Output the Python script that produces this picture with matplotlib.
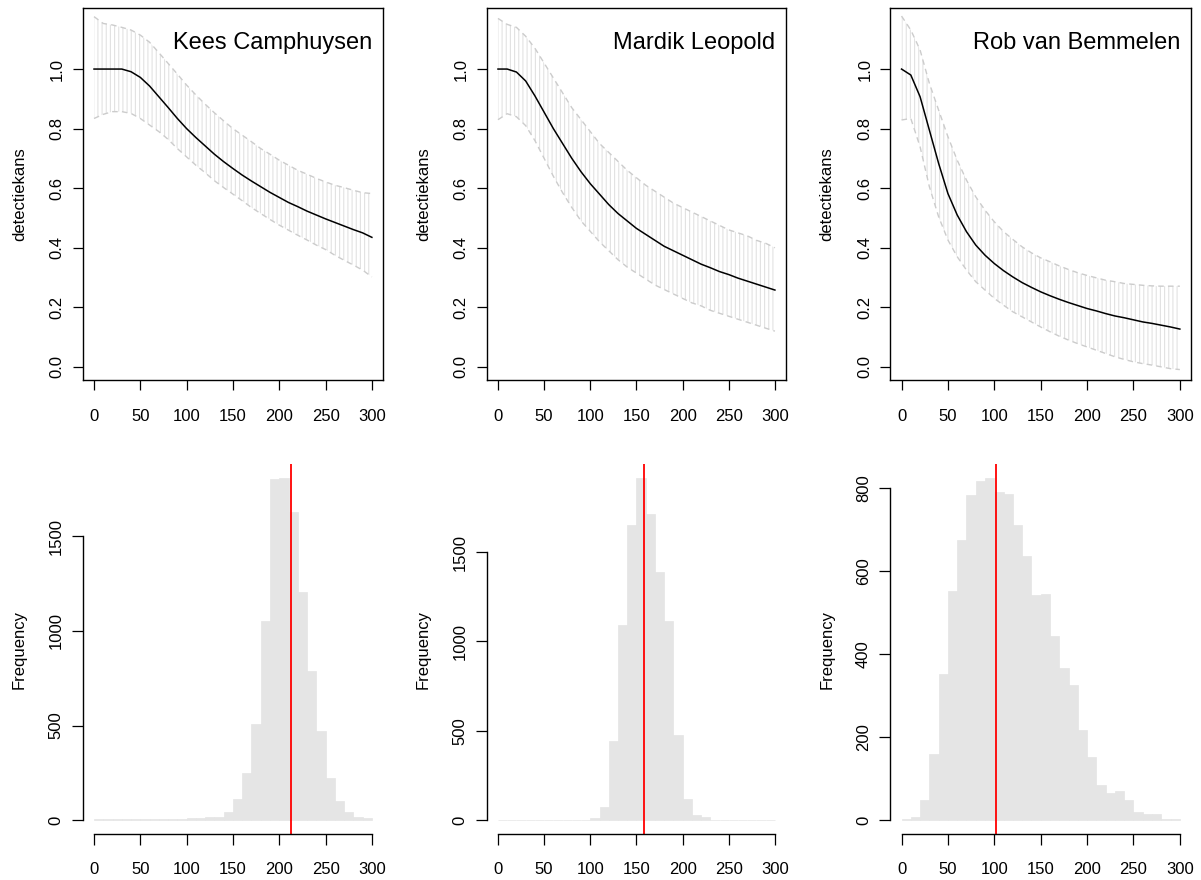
import numpy as np
import matplotlib.pyplot as plt

plt.rcParams['font.family'] = ['Liberation Sans', 'DejaVu Sans']
plt.rcParams['hatch.linewidth'] = 0.8

observers = ['Kees Camphuysen', 'Mardik Leopold', 'Rob van Bemmelen']

# distance (m) at which the detection curves were read
dist = np.arange(0, 310, 10)

kees_mean = [1.0, 1.0, 1.0, 1.0, 0.991, 0.972, 0.943, 0.907, 0.871, 0.834, 0.80,
             0.770, 0.742, 0.714, 0.689, 0.666, 0.644, 0.624, 0.605, 0.586, 0.569,
             0.552, 0.538, 0.523, 0.510, 0.497, 0.485, 0.473, 0.461, 0.450, 0.435]
kees_upper = [1.176, 1.153, 1.148, 1.14, 1.131, 1.114, 1.09, 1.055, 1.019, 0.983, 0.946,
              0.913, 0.882, 0.853, 0.826, 0.80, 0.778, 0.756, 0.733, 0.714, 0.694,
              0.677, 0.66, 0.647, 0.633, 0.621, 0.61, 0.602, 0.593, 0.585, 0.582]
kees_lower = [0.834, 0.848, 0.857, 0.857, 0.851, 0.834, 0.812, 0.79, 0.764, 0.733, 0.705,
              0.677, 0.652, 0.625, 0.602, 0.58, 0.558, 0.535, 0.515, 0.495, 0.476,
              0.459, 0.442, 0.426, 0.409, 0.394, 0.375, 0.358, 0.342, 0.325, 0.302]

mardik_mean = [1.0, 1.0, 0.99, 0.96, 0.91, 0.855, 0.80, 0.75, 0.70, 0.655, 0.615,
               0.58, 0.545, 0.515, 0.49, 0.465, 0.445, 0.425, 0.405, 0.39, 0.375,
               0.36, 0.345, 0.333, 0.32, 0.31, 0.298, 0.288, 0.278, 0.268, 0.258]
mardik_upper = [1.17, 1.15, 1.14, 1.11, 1.07, 1.02, 0.97, 0.92, 0.87, 0.83, 0.79,
                0.75, 0.72, 0.69, 0.66, 0.635, 0.61, 0.59, 0.57, 0.55, 0.535,
                0.52, 0.505, 0.49, 0.475, 0.46, 0.45, 0.44, 0.425, 0.415, 0.40]
mardik_lower = [0.83, 0.85, 0.84, 0.81, 0.76, 0.70, 0.64, 0.585, 0.535, 0.49, 0.455,
                0.42, 0.39, 0.36, 0.335, 0.315, 0.295, 0.275, 0.26, 0.245, 0.23,
                0.215, 0.205, 0.19, 0.18, 0.17, 0.16, 0.15, 0.14, 0.13, 0.12]

rob_mean = [1.0, 0.98, 0.907, 0.795, 0.683, 0.582, 0.51, 0.454, 0.409, 0.375, 0.347,
            0.323, 0.302, 0.283, 0.267, 0.252, 0.239, 0.227, 0.216, 0.206, 0.196,
            0.188, 0.179, 0.171, 0.165, 0.158, 0.151, 0.146, 0.14, 0.134, 0.127]
rob_upper = [1.178, 1.131, 1.064, 0.952, 0.862, 0.773, 0.694, 0.627, 0.571, 0.526, 0.487,
             0.454, 0.428, 0.403, 0.383, 0.366, 0.353, 0.339, 0.327, 0.316, 0.307,
             0.299, 0.291, 0.286, 0.28, 0.277, 0.274, 0.272, 0.271, 0.271, 0.271]
rob_lower = [0.829, 0.834, 0.739, 0.605, 0.504, 0.426, 0.37, 0.325, 0.286, 0.258, 0.23,
             0.207, 0.185, 0.168, 0.151, 0.134, 0.118, 0.103, 0.09, 0.078, 0.067,
             0.056, 0.045, 0.034, 0.025, 0.017, 0.011, 0.006, 0.0, -0.006, -0.009]

# histogram of bootstrapped effective strip width
breaks = np.arange(0, 310, 10)
kees_counts = [5, 5, 5, 5, 5, 5, 5, 5, 5, 5, 10, 10, 15, 16, 44, 111, 251, 506, 1054, 1802,
               1809, 1630, 1203, 790, 474, 225, 102, 44, 18, 10]
mardik_counts = [2, 2, 2, 2, 2, 2, 2, 2, 2, 2, 13, 74, 444, 1092, 1652, 1916, 1713, 1389,
                 1116, 479, 119, 32, 17, 2, 2, 2, 2, 2, 2, 2]
rob_counts = [2, 8, 48, 160, 353, 552, 674, 782, 816, 824, 790, 786, 711, 635, 541, 545,
              443, 367, 326, 217, 152, 85, 65, 70, 48, 20, 16, 16, 2, 2]
medians = [213, 158.7, 101.5]

curves = [(kees_mean, kees_upper, kees_lower),
          (mardik_mean, mardik_upper, mardik_lower),
          (rob_mean, rob_upper, rob_lower)]
counts = [kees_counts, mardik_counts, rob_counts]
freq_ticks = [[0, 500, 1000, 1500], [0, 500, 1000, 1500], [0, 200, 400, 600, 800]]

W, H = 1201, 880
fig = plt.figure(figsize=(W / 100, H / 100), dpi=100)
cols = [(82.9, 383.0), (486.9, 786.0), (890.4, 1191.0)]

for i, (x0, x1) in enumerate(cols):
    wpx = x1 - x0
    # --- top: detection probability ---
    ax = fig.add_axes([x0 / W, 1 - 380 / H, wpx / W, (380 - 8) / H])
    mean, upper, lower = curves[i]
    ax.fill_between(dist, lower, upper, facecolor='none', edgecolor='#e2e2e2',
                    hatch='||||', linewidth=0)
    ax.plot(dist, upper, color='#cccccc', ls=(0, (4, 3)), lw=1)
    ax.plot(dist, lower, color='#cccccc', ls=(0, (4, 3)), lw=1)
    ax.plot(dist, mean, color='black', lw=1.1)
    ax.set_xlim(-12, 312)
    ax.set_ylim(-0.044, 1.205)
    ax.set_xticks(range(0, 301, 50))
    yt = [0.0, 0.2, 0.4, 0.6, 0.8, 1.0]
    ax.set_yticks(yt)
    ax.set_yticklabels(['%.1f' % v for v in yt], rotation=90, va='center')
    ax.tick_params(axis='both', direction='out', length=7, width=0.9, labelsize=12)
    ax.tick_params(axis='x', pad=14)
    ax.tick_params(axis='y', pad=6)
    for s in ax.spines.values():
        s.set_linewidth(1.0)
    ax.set_ylabel('detectiekans', fontsize=12)
    ax.yaxis.set_label_coords(-56 / wpx, 0.5)
    ax.text(0.963, 0.89, observers[i], transform=ax.transAxes, ha='right',
            va='baseline', fontsize=17)

    # --- bottom: histogram ---
    ax = fig.add_axes([x0 / W, 1 - 834 / H, wpx / W, (834 - 464) / H])
    c = counts[i]
    ax.bar(breaks[:-1], c, width=10, align='edge', color='#e5e5e5',
           edgecolor='#e5e5e5', linewidth=0.5)
    ax.axvline(medians[i], color='red', lw=1.3)
    top = max(c)
    ax.set_xlim(-12, 312)
    ax.set_ylim(-0.04 * top, 1.04 * top)
    ax.set_xticks(range(0, 301, 50))
    ax.set_yticks(freq_ticks[i])
    ax.set_yticklabels([str(v) for v in freq_ticks[i]], rotation=90, va='center')
    ax.spines['top'].set_visible(False)
    ax.spines['right'].set_visible(False)
    ax.spines['left'].set_bounds(0, freq_ticks[i][-1])
    ax.spines['bottom'].set_bounds(0, 300)
    ax.spines['left'].set_linewidth(1.0)
    ax.spines['bottom'].set_linewidth(1.0)
    ax.tick_params(axis='both', direction='out', length=8, width=0.9, labelsize=12)
    ax.tick_params(axis='x', pad=12)
    ax.tick_params(axis='y', pad=6)
    ax.set_ylabel('Frequency', fontsize=12)
    ax.yaxis.set_label_coords(-56 / wpx, 0.5)

fig.savefig('out.png', dpi=100)
